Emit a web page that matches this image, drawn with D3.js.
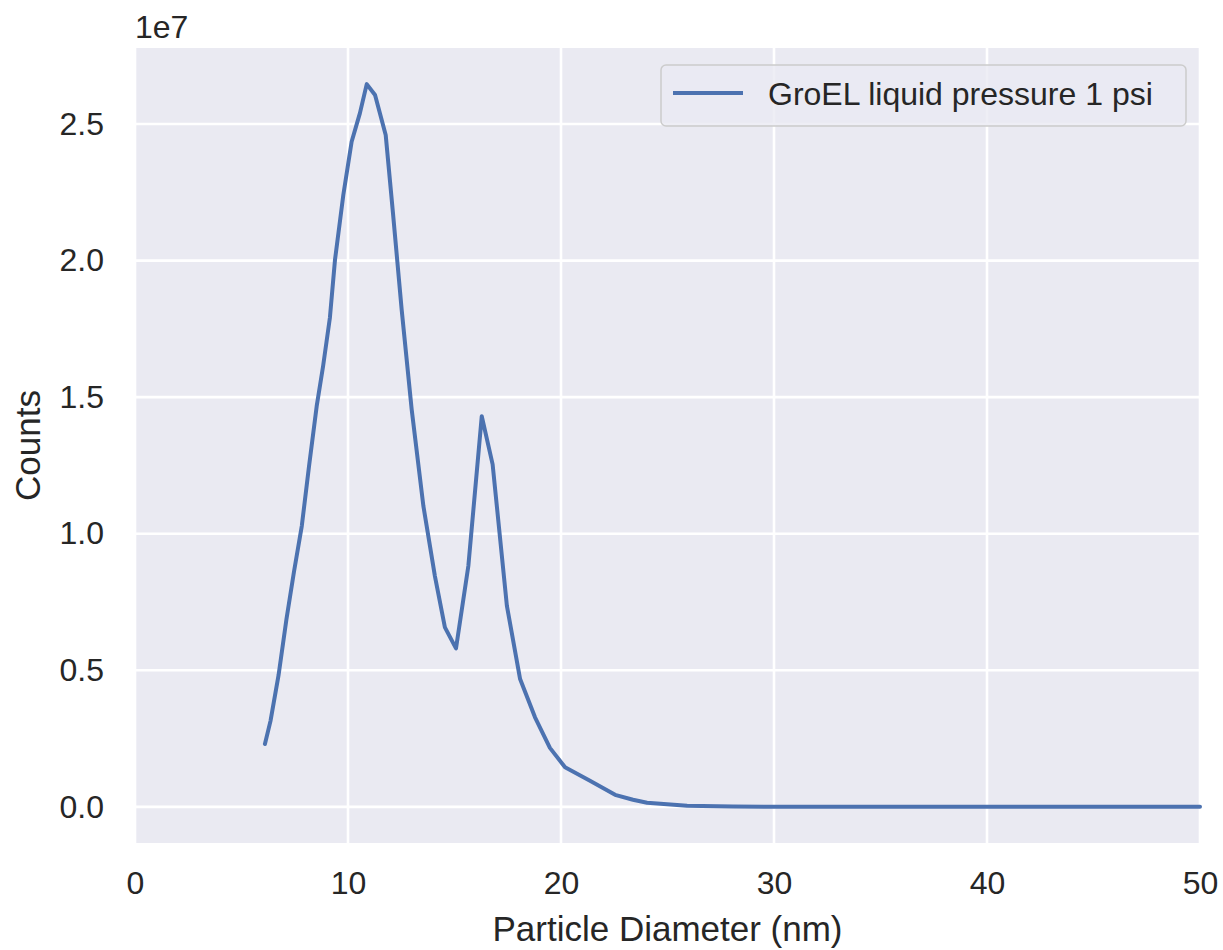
<!DOCTYPE html>
<html>
<head>
<meta charset="utf-8">
<script src="https://cdn.jsdelivr.net/npm/d3@7"></script>
<style>
    body { margin: 0; background: #ffffff; }
    text { font-family: "Liberation Sans", Arial, sans-serif; fill: #262626; }
</style>
</head>
<body>
<div id="chart"></div>
<script>
// particle diameter in nm
let diameters = [6.10, 6.36, 6.74, 7.11, 7.46, 7.83, 8.17, 8.53, 8.83, 9.15, 9.39, 9.78, 10.17, 10.56, 10.88,
    11.27, 11.77, 12.11, 12.52, 12.99, 13.54, 14.08, 14.55, 15.07, 15.65, 16.28, 16.79, 17.46, 18.08, 18.78,
    19.48, 20.19, 21.36, 22.54, 23.38, 24.04, 25.92, 28.08, 32.0, 36.0, 40.0, 45.0, 50.0];
// counts, in units of 1e7
let counts = [0.230, 0.314, 0.482, 0.687, 0.859, 1.028, 1.247, 1.467, 1.613, 1.791, 2.003, 2.240, 2.435, 2.540, 2.646,
    2.606, 2.460, 2.175, 1.820, 1.455, 1.101, 0.845, 0.657, 0.580, 0.882, 1.430, 1.254, 0.736, 0.468, 0.328,
    0.216, 0.145, 0.096, 0.044, 0.026, 0.015, 0.004, 0.001, 0.0, 0.0, 0.0, 0.0, 0.0];
let xTicks = [0, 10, 20, 30, 40, 50];
let yTicks = [0.0, 0.5, 1.0, 1.5, 2.0, 2.5];
let seriesName = "GroEL liquid pressure 1 psi";

let width = 1223, height = 950;
let margin = {left: 135, right: 23, top: 48, bottom: 107};
let plotW = width - margin.left - margin.right;
let plotH = height - margin.top - margin.bottom;

let svg = d3.select("#chart").append("svg").attr("width", width).attr("height", height);

// matplotlib style 5% padding on y
let yMax = d3.max(counts), yMin = 0;
let pad = (yMax - yMin) * 0.05;
let x = d3.scaleLinear().domain([0, 50]).range([0, plotW]);
let y = d3.scaleLinear().domain([yMin - pad, yMax + pad]).range([plotH, 0]);

let g = svg.append("g").attr("transform", "translate(" + margin.left + "," + margin.top + ")");

g.append("rect").attr("width", plotW).attr("height", plotH).attr("fill", "#eaeaf2");

// grid lines
g.append("g").selectAll("line").data(xTicks).enter().append("line")
    .attr("x1", d => x(d)).attr("x2", d => x(d)).attr("y1", 0).attr("y2", plotH)
    .attr("stroke", "#ffffff").attr("stroke-width", 2.6);
g.append("g").selectAll("line").data(yTicks).enter().append("line")
    .attr("x1", 0).attr("x2", plotW).attr("y1", d => y(d)).attr("y2", d => y(d))
    .attr("stroke", "#ffffff").attr("stroke-width", 2.6);

// axes: labels only, no domain or ticks
let xAxis = g.append("g").attr("transform", "translate(0," + plotH + ")")
    .call(d3.axisBottom(x).tickValues(xTicks).tickSize(0).tickPadding(28).tickFormat(d3.format("d")));
let yAxis = g.append("g")
    .call(d3.axisLeft(y).tickValues(yTicks).tickSize(0).tickPadding(31).tickFormat(d3.format(".1f")));
[xAxis, yAxis].forEach(a => {
    a.select(".domain").remove();
    a.selectAll("text").attr("font-size", "32px").attr("fill", "#262626")
        .style("font-family", "'Liberation Sans', Arial, sans-serif");
});

// the data line
let line = d3.line().x((d, i) => x(diameters[i])).y(d => y(d));
g.append("path").datum(counts).attr("d", line)
    .attr("fill", "none").attr("stroke", "#4c72b0").attr("stroke-width", 4)
    .attr("stroke-linejoin", "round").attr("stroke-linecap", "round");

// offset text and axis labels
svg.append("text").attr("x", margin.left).attr("y", 38).attr("font-size", "32px").text("1e7");
svg.append("text").attr("x", margin.left + plotW / 2).attr("y", 941).attr("text-anchor", "middle")
    .attr("font-size", "35px").text("Particle Diameter (nm)");
svg.append("text").attr("transform", "translate(40," + (margin.top + plotH / 2) + ") rotate(-90)")
    .attr("text-anchor", "middle").attr("font-size", "35px").text("Counts");

// legend
let legend = svg.append("g").attr("transform", "translate(661,65)");
legend.append("rect").attr("width", 525).attr("height", 61).attr("rx", 5)
    .attr("fill", "#eaeaf2").attr("fill-opacity", 0.8).attr("stroke", "#cccccc").attr("stroke-width", 1.5);
legend.append("line").attr("x1", 12).attr("x2", 82).attr("y1", 28).attr("y2", 28)
    .attr("stroke", "#4c72b0").attr("stroke-width", 4);
legend.append("text").attr("x", 107).attr("y", 40).attr("font-size", "32px").text(seriesName);
</script>
</body>
</html>
